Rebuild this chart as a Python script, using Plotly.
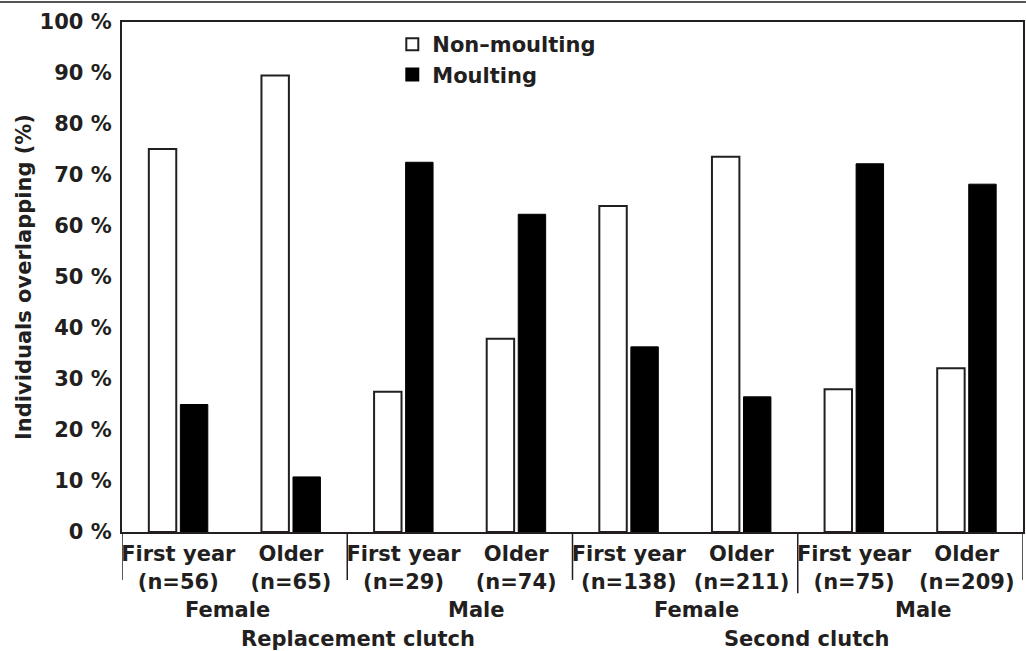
import plotly.graph_objects as go

categories = [
    "First year<br>(n=56)", "Older<br>(n=65)",
    "First year<br>(n=29)", "Older<br>(n=74)",
    "First year<br>(n=138)", "Older<br>(n=211)",
    "First year<br>(n=75)", "Older<br>(n=209)",
]
non_moulting = [75.1, 89.5, 27.5, 37.9, 63.9, 73.6, 28.0, 32.1]
moulting = [25.0, 10.8, 72.5, 62.3, 36.3, 26.5, 72.2, 68.2]

sex_labels = ["Female", "Male", "Female", "Male"]
sex_pos = [0.5, 2.5, 4.5, 6.5]
sex_shift = [-7, 17, 11, 13]
clutch_labels = ["Replacement clutch", "Second clutch"]
clutch_pos = [1.5, 5.5]
clutch_shift = [11, 9]
separators = [-0.5, 1.5, 3.5, 5.5, 7.5]
separator_depth = [-0.094, -0.094, -0.094, -0.12, -0.094]

INK = "#231f20"
FONT = "DejaVu Sans"

fig = go.Figure()
fig.add_trace(go.Bar(
    x=categories, y=non_moulting, name="Non\u2013moulting",
    marker=dict(color="white", line=dict(color=INK, width=2)),
))
fig.add_trace(go.Bar(
    x=categories, y=moulting, name="Moulting",
    marker=dict(color="black", line=dict(color="black", width=1)),
))

shapes = []
for xv, d in zip(separators, separator_depth):
    shapes.append(dict(type="line", xref="x", yref="paper", x0=xv, x1=xv,
                       y0=0, y1=d, line=dict(color=INK, width=1.5)))
shapes.append(dict(type="line", xref="paper", yref="paper",
                   x0=-0.1354, x1=1.0033, y0=1.039, y1=1.039,
                   line=dict(color="#555555", width=2)))

annotations = []
for lab, xv, sh in zip(sex_labels, sex_pos, sex_shift):
    annotations.append(dict(text="<b>%s</b>" % lab, x=xv, xref="x", xshift=sh,
                            y=-0.153, yref="paper", yanchor="middle",
                            showarrow=False, font=dict(size=21, color=INK, family=FONT)))
for lab, xv, sh in zip(clutch_labels, clutch_pos, clutch_shift):
    annotations.append(dict(text="<b>%s</b>" % lab, x=xv, xref="x", xshift=sh,
                            y=-0.21, yref="paper", yanchor="middle",
                            showarrow=False, font=dict(size=21, color=INK, family=FONT)))

fig.update_layout(
    width=1026, height=651,
    margin=dict(l=122, r=3, t=22, b=119),
    paper_bgcolor="white", plot_bgcolor="white",
    barmode="group", bargap=0.44, bargroupgap=0.13,
    font=dict(family=FONT, color=INK, size=21, weight="bold"),
    showlegend=True,
    legend=dict(x=0.300, y=0.996, xanchor="left", yanchor="top",
                bgcolor="rgba(0,0,0,0)", font=dict(size=21, color=INK, weight="bold"),
                tracegroupgap=0, itemsizing="constant"),
    shapes=shapes, annotations=annotations,
)
fig.update_xaxes(
    type="category", range=[-0.5, 7.5], automargin=False,
    showline=True, mirror=True, linecolor=INK, linewidth=2,
    ticks="", showgrid=False,
    tickfont=dict(size=21, color=INK, family=FONT, weight="bold"),
    ticklabelstandoff=2,
)
fig.update_yaxes(
    range=[0, 100], dtick=10, ticksuffix=" %", automargin=False,
    showline=True, mirror=True, linecolor=INK, linewidth=2,
    ticks="", showgrid=False, zeroline=False,
    tickfont=dict(size=21, color=INK, family=FONT, weight="bold"),
    ticklabelstandoff=4,
    title=dict(text="Individuals overlapping (%)", standoff=2,
               font=dict(size=21, color=INK, family=FONT, weight="bold")),
)

fig.write_html("out.html", config={"displayModeBar": False},
               post_script="document.body.style.margin='0';")
